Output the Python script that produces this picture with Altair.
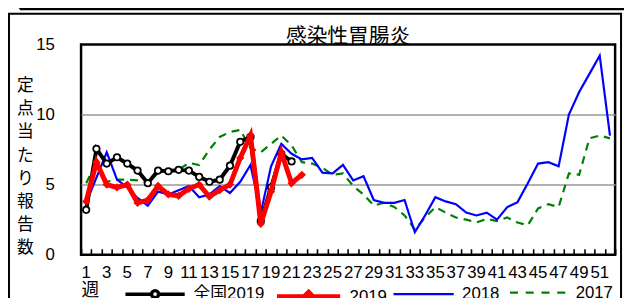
import altair as alt
import pandas as pd

weeks = list(range(1, 53))
series_names = ["全国2019", "2019", "2018", "2017"]
series_colors = ["#000000", "#ff0000", "#0000ff", "#008000"]

national_2019 = [3.2, 7.55, 6.5, 6.95, 6.5, 6.0, 5.1, 6.0, 5.95, 6.05, 6.0, 5.55, 5.2, 5.35,
                 6.35, 8.05, 8.4, 2.4, 4.8, 7.2, 6.65]
pref_2019 = [3.8, 6.6, 5.0, 4.8, 5.0, 3.7, 3.9, 4.9, 4.3, 4.2, 4.7, 5.0, 4.15, 4.6, 5.0,
             6.9, 8.5, 2.2, 4.5, 7.3, 5.1, 5.7]
pref_2018 = [3.7, 5.5, 7.3, 5.35, 4.8, 4.05, 3.5, 4.5, 4.3, 4.6, 4.9, 4.1, 4.3, 4.9, 4.4,
             5.2, 6.4, 3.0, 6.3, 7.9, 7.2, 6.8, 6.9, 5.85, 5.8, 6.4, 5.3, 5.6, 3.9, 3.7,
             3.7, 3.9, 1.6, 2.8, 4.1, 3.8, 3.6, 3.0, 2.8, 3.0, 2.5, 3.4, 3.75, 5.1, 6.5,
             6.6, 6.3, 10.0, 11.6, 12.9, 14.2, 8.5]
pref_2017 = [5.1, 6.6, 5.2, 5.35, 5.35, 5.3, 5.1, 5.85, 6.0, 6.05, 6.55, 6.4, 7.5, 8.4,
             8.75, 8.9, 7.6, 7.3, 7.9, 8.5, 7.8, 6.6, 6.5, 6.2, 5.7, 5.8, 4.9, 4.3, 3.5,
             3.7, 3.4, 2.8, 1.8, 2.65, 3.4, 3.0, 2.65, 2.5, 2.3, 2.55, 2.4, 2.65, 2.3,
             2.1, 3.3, 3.6, 3.4, 5.8, 5.7, 8.3, 8.5, 8.3]
y_ticks = [0, 5, 10, 15]
y_title = list("定点当たり報告数")


def frame(name, values):
    return pd.DataFrame({"week": weeks[:len(values)], "value": values, "series": name})


df_nat = frame(series_names[0], national_2019)
df_19 = frame(series_names[1], pref_2019)
df_18 = frame(series_names[2], pref_2018)
df_17 = frame(series_names[3], pref_2017)

W, H = 541, 213
CJK = "Noto Sans CJK JP"
NUM = "Liberation Sans, Noto Sans CJK JP"

xscale = alt.Scale(type="band", domain=weeks, paddingInner=0, paddingOuter=0)
yscale = alt.Scale(domain=[0, 15], nice=False, zero=True)

bottom_axis = alt.Axis(
    orient="bottom", labelExpr="datum.value % 2 == 1 ? datum.label : ''",
    labelAngle=0, labelFontSize=17, labelFont=NUM, labelColor="black",
    labelPadding=10, labelOverlap=False, ticks=False, domain=False, grid=False,
    title="週", titleX=0, titleY=36, titleAlign="left", titleBaseline="middle",
    titleAngle=0, titleFont=CJK, titleFontSize=18, titleFontWeight="normal",
    titleColor="black")
tick_axis = alt.Axis(
    orient="top", offset=-H, labels=False, domain=False, grid=False, ticks=True,
    tickSize=6, tickWidth=1.6, tickColor="black", tickBand="extent", title=None)
y_axis = alt.Axis(
    values=y_ticks, ticks=False, domain=False, grid=True,
    gridColor={"condition": {"test": "datum.value == 5 || datum.value == 10",
                             "value": "#999999"}, "value": "transparent"},
    gridWidth=1.5, labelFontSize=17, labelFont=NUM, labelColor="black",
    labelPadding=27, title=y_title, titleAngle=0, titleAlign="center",
    titleBaseline="middle", titleX=-57, titleY=42, titleLineHeight=23.4,
    titleFont=CJK, titleFontSize=17, titleFontWeight="normal", titleColor="black")


def legend(lx, width, shape, fill, sw):
    return alt.Legend(
        orient="none", legendX=lx, legendY=221, direction="horizontal", title=None,
        symbolSize=width * width, symbolType=shape, symbolFillColor=fill,
        symbolStrokeWidth=sw,
        labelFont=NUM, labelFontSize=17, labelColor="black", labelOffset=7, padding=0)


def circ(r):
    return (f"M-1,0H{-r:.3f}M{r:.3f},0H1M{r:.3f},0A{r:.3f},{r:.3f} 0 1 1 {-r:.3f},0"
            f"A{r:.3f},{r:.3f} 0 1 1 {r:.3f},0")


def diam(r):
    return f"M-1,0H1M0,{-r:.3f}L{r:.3f},0L0,{r:.3f}L{-r:.3f},0Z"


P_18 = "M-1,0H1"
P_17 = "M-1,0H-0.72M-0.45,0H-0.17M0.1,0H0.38M0.65,0H0.93"


def color(i, lg):
    return alt.Color("series:N", scale=alt.Scale(domain=[series_names[i]], range=[series_colors[i]]),
                     legend=lg)


def xenc(axis):
    return alt.X("week:O", scale=xscale, axis=axis, bandPosition=0.5)


def yenc():
    return alt.Y("value:Q", scale=yscale, axis=y_axis)


l17 = alt.Chart(df_17).mark_line(strokeWidth=2.2, strokeDash=[8, 6]).encode(
    x=xenc(bottom_axis), y=yenc(),
    color=color(3, legend(433, 58, P_17, "transparent", 2.2)))
l18 = alt.Chart(df_18).mark_line(strokeWidth=2.2).encode(
    x=xenc(tick_axis), y=yenc(),
    color=color(2, legend(315, 61, P_18, "transparent", 2.2)))
lnat = alt.Chart(df_nat).mark_line(strokeWidth=4).encode(
    x=xenc(None), y=yenc(),
    color=color(0, legend(43, 60, circ(3.6 / 30), "white", 3.5)))
pnat = alt.Chart(df_nat).mark_point(shape="circle", filled=True, fill="white", stroke="black",
                                    strokeWidth=1.8, size=42, opacity=1).encode(
    x=xenc(None), y=yenc())
l19 = alt.Chart(df_19).mark_line(strokeWidth=5).encode(
    x=xenc(None), y=yenc(),
    color=color(1, legend(196, 64, diam(4.5 / 32), "#ff0000", 5)))
p19 = alt.Chart(df_19).mark_point(shape="diamond", filled=True, color="#ff0000",
                                  size=70, opacity=1).encode(
    x=xenc(None), y=yenc())

frame_df = pd.DataFrame({"k": [0]})
outer = alt.Chart(frame_df).mark_rect(fill="transparent", stroke="black", strokeWidth=2).encode(
    x=alt.value(-73), x2=alt.value(547), y=alt.value(-31), y2=alt.value(300))
topline = alt.Chart(frame_df).mark_rule(stroke="black", strokeWidth=3).encode(
    x=alt.value(-62), x2=alt.value(560), y=alt.value(-36))
topvert = alt.Chart(frame_df).mark_rule(stroke="black", strokeWidth=2).encode(
    x=alt.value(-62), y=alt.value(-50), y2=alt.value(-36))

chart = alt.layer(outer, topline, topvert, l17, l18, lnat, pnat, l19, p19).resolve_axis(
    x="independent").resolve_scale(color="independent").resolve_legend(
    color="independent").properties(
    width=W, height=H,
    title=alt.TitleParams("感染性胃腸炎", font=CJK, fontSize=21, fontWeight="normal",
                          color="black", anchor="middle", offset=-54, frame="group"),
    autosize=alt.AutoSizeParams(type="none"),
    padding={"left": 74, "top": 35, "right": 9, "bottom": 42},
    background="white",
).configure_view(stroke="black", strokeWidth=2.5)

chart.save("out.html", embed_options={"renderer": "svg", "actions": False})
